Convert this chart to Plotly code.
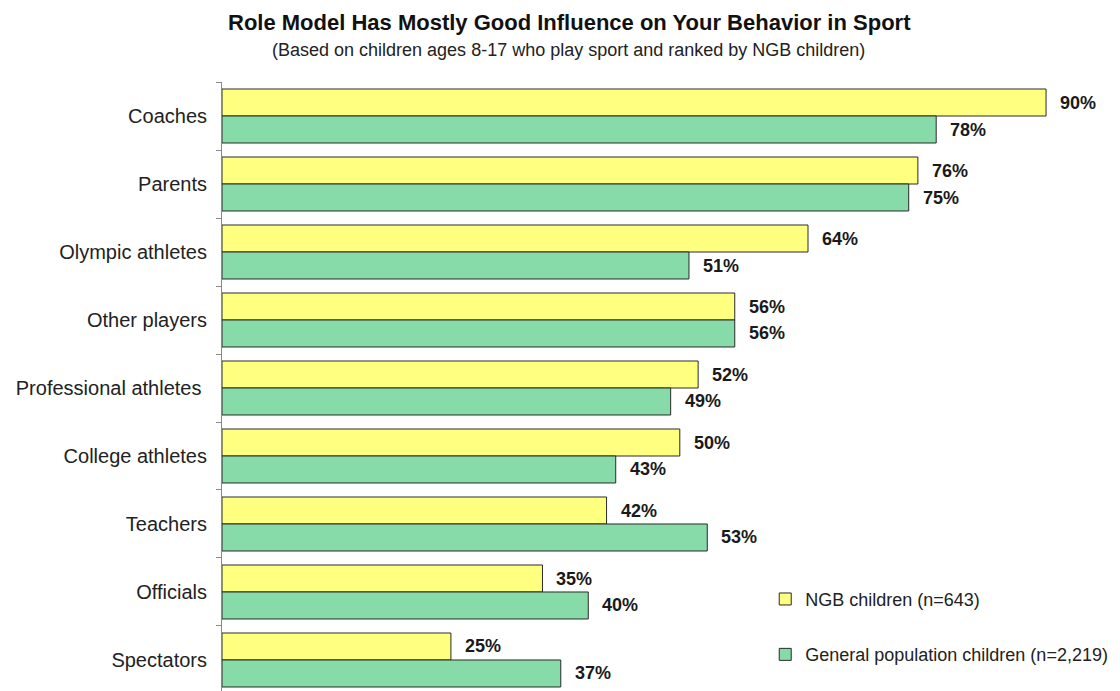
import plotly.graph_objects as go

categories = ["Coaches", "Parents", "Olympic athletes", "Other players",
              "Professional athletes ", "College athletes", "Teachers",
              "Officials", "Spectators"]
ngb = [90, 76, 64, 56, 52, 50, 42, 35, 25]
general = [78, 75, 51, 56, 49, 43, 53, 40, 37]
series_names = ["NGB children (n=643)", "General population children (n=2,219)"]
title_text = "Role Model Has Mostly Good Influence on Your Behavior in Sport"
subtitle_text = "(Based on children ages 8-17 who play sport and ranked by NGB children)"

YELLOW = "#FFFF80"
GREEN = "#86DBA8"
OUTLINE = "#2a2a2a"
FONT = "Liberation Sans, Arial, sans-serif"

fig = go.Figure()
fig.add_trace(go.Bar(y=categories, x=ngb, orientation="h", name=series_names[0],
                     marker=dict(color=YELLOW, line=dict(color=OUTLINE, width=1)),
                     legendgroup="a", hoverinfo="skip"))
fig.add_trace(go.Bar(y=categories, x=general, orientation="h", name=series_names[1],
                     marker=dict(color=GREEN, line=dict(color=OUTLINE, width=1)),
                     legendgroup="b", hoverinfo="skip"))

bargap = 0.206
half = (1 - bargap) / 4
annotations = []
for i, cat in enumerate(categories):
    for val, off in ((ngb[i], -half), (general[i], half)):
        annotations.append(dict(x=val, y=i + off, xref="x", yref="y",
                                text=f"<b>{val}%</b>", showarrow=False,
                                xanchor="left", yanchor="middle", xshift=12,
                                font=dict(family=FONT, size=18, color="#1a1a1a")))

annotations.append(dict(x=0.395, y=1.098, xref="paper", yref="paper",
                        text=f"<b>{title_text}</b>", showarrow=False,
                        xanchor="center", yanchor="middle",
                        font=dict(family=FONT, size=22, color="#111111")))
annotations.append(dict(x=0.394, y=1.052, xref="paper", yref="paper",
                        text=subtitle_text, showarrow=False,
                        xanchor="center", yanchor="middle",
                        font=dict(family=FONT, size=18, color="#222222")))

fig.update_layout(
    width=1120, height=691,
    margin=dict(l=222, r=19, t=82, b=0, autoexpand=False),
    paper_bgcolor="white", plot_bgcolor="white",
    barmode="group", bargap=bargap, bargroupgap=0,
    showlegend=True,
    legend=dict(x=0.618, y=0.181, xanchor="left", yanchor="top",
                font=dict(family=FONT, size=18, color="#222222"),
                tracegroupgap=29, bgcolor="rgba(0,0,0,0)"),
    annotations=annotations,
    xaxis=dict(range=[0, 96], showticklabels=False, showgrid=False, zeroline=False,
               showline=False, ticks=""),
    yaxis=dict(type="category", categoryorder="array", categoryarray=categories,
               range=[8.456, -0.5], showgrid=False, zeroline=False, automargin=False,
               showline=True, linecolor="#888888", linewidth=1,
               ticks="outside", tickson="boundaries", ticklen=5, tickcolor="#888888",
               ticklabelstandoff=10,
               tickfont=dict(family=FONT, size=20, color="#222222")),
)

fig.write_html("out.html", config={"displayModeBar": False},
               post_script="document.body.style.margin='0';")
